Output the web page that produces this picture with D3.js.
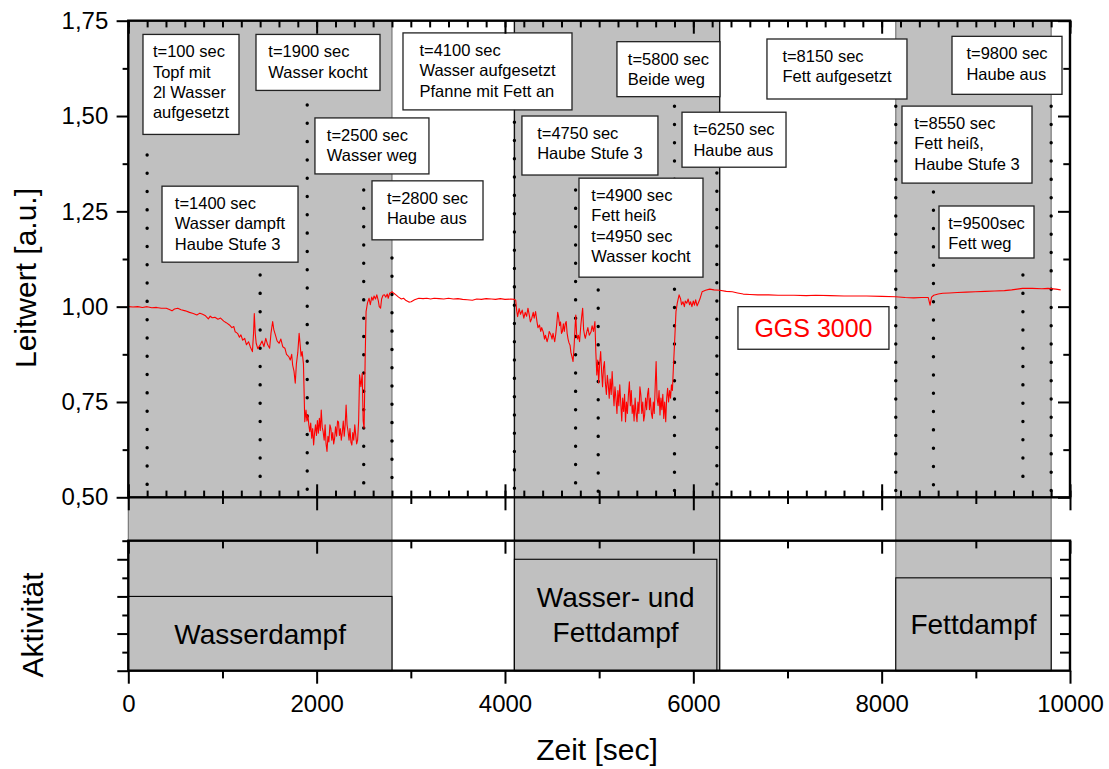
<!DOCTYPE html>
<html><head><meta charset="utf-8">
<script src="https://cdn.jsdelivr.net/npm/d3@7"></script>
<style>
body{margin:0;background:#fff;}
svg{display:block;font-family:"Liberation Sans",Arial,sans-serif;}
</style></head>
<body><svg id="c" width="1109" height="769"></svg>
<script>
// ---------- DATA ----------
// [time in sec, Leitwert]
const leitwertSamples = [
[0,1.000],[50,0.999],[100,1.000],[150,0.998],[200,1.000],[250,0.997],[300,0.998],[350,0.996],[403,0.996],[430,0.993],[464,0.989],[490,0.994],[525,0.996],[560,0.992],[606,0.989],[650,0.985],[690,0.982],[728,0.978],[760,0.983],[789,0.980],[820,0.976],[850,0.968],[870,0.975],[891,0.971],[920,0.972],[952,0.967],[980,0.970],[1013,0.962],[1040,0.958],[1074,0.952],[1100,0.945],[1120,0.948],[1135,0.934],[1160,0.930],[1180,0.920],[1196,0.926],[1215,0.912],[1236,0.917],[1255,0.900],[1277,0.908],[1295,0.895],[1318,0.882],[1330,0.930],[1338,0.982],[1348,0.930],[1358,0.904],[1375,0.890],[1399,0.899],[1420,0.910],[1440,0.895],[1460,0.917],[1480,0.900],[1501,0.891],[1515,0.930],[1533,0.961],[1545,0.940],[1562,0.926],[1580,0.910],[1602,0.904],[1620,0.915],[1640,0.895],[1663,0.891],[1680,0.875],[1704,0.869],[1720,0.860],[1735,0.875],[1745,0.847],[1760,0.830],[1773,0.799],[1785,0.850],[1800,0.880],[1814,0.930],[1825,0.900],[1835,0.870],[1846,0.882],[1860,0.850],
[1874,0.698],[1887,0.729],[1897,0.700],[1907,0.716],[1917,0.690],[1927,0.672],[1937,0.695],[1948,0.655],[1958,0.680],[1968,0.637],[1978,0.668],[1988,0.690],[1998,0.662],[2008,0.701],[2018,0.668],[2029,0.707],[2039,0.675],[2049,0.729],[2059,0.684],[2069,0.672],[2080,0.650],[2090,0.690],[2100,0.640],[2110,0.620],[2120,0.660],[2130,0.645],[2141,0.690],[2151,0.681],[2161,0.650],[2171,0.670],[2181,0.640],[2191,0.655],[2201,0.685],[2212,0.660],[2222,0.700],[2232,0.698],[2242,0.662],[2252,0.680],[2262,0.650],[2273,0.672],[2283,0.700],[2293,0.660],[2303,0.690],[2313,0.742],[2323,0.690],[2334,0.672],[2344,0.650],[2354,0.680],[2364,0.645],[2374,0.637],[2384,0.670],[2394,0.650],[2405,0.690],[2415,0.663],[2425,0.640],[2435,0.650],[2446,0.700],[2456,0.821],[2470,0.790],[2484,0.825],[2494,0.700],[2504,0.681],[2515,0.860],
[2525,0.987],[2540,1.010],[2557,1.022],[2570,1.005],[2585,1.025],[2598,1.017],[2610,1.028],[2625,1.020],[2639,1.031],[2655,1.015],[2665,1.000],[2679,0.996],[2690,1.020],[2705,1.030],[2720,1.031],[2735,1.025],[2750,1.033],[2760,1.022],[2775,1.035],[2790,1.037],[2801,1.039],
[2820,1.035],[2842,1.031],[2870,1.025],[2900,1.020],[2923,1.022],[2950,1.016],[2980,1.012],[3004,1.013],[3040,1.018],[3085,1.022],[3130,1.021],[3170,1.022],[3210,1.020],[3248,1.022],[3300,1.021],[3350,1.020],[3400,1.022],[3451,1.020],[3500,1.021],[3550,1.019],[3600,1.018],[3654,1.017],[3700,1.020],[3750,1.019],[3800,1.021],[3857,1.020],[3900,1.019],[3950,1.021],[4000,1.019],[4061,1.020],[4100,1.019],
[4114,1.017],[4124,0.990],[4134,0.974],[4150,0.995],[4165,0.980],[4183,0.991],[4200,0.970],[4215,0.985],[4230,0.975],[4244,0.996],[4260,0.975],[4270,0.960],[4284,0.969],[4300,0.985],[4310,0.970],[4325,0.987],[4340,0.960],[4350,0.945],[4366,0.952],[4380,0.935],[4390,0.945],[4406,0.934],[4420,0.915],[4430,0.925],[4447,0.908],[4460,0.920],[4470,0.935],[4488,0.926],[4500,0.915],[4510,0.930],[4528,0.908],[4540,0.930],[4550,0.955],[4560,0.985],[4569,0.974],[4580,0.950],[4590,0.960],[4600,0.930],[4609,0.934],[4620,0.955],[4630,0.935],[4640,0.955],[4650,0.961],[4660,0.930],[4670,0.915],[4680,0.905],[4691,0.899],[4700,0.880],[4710,0.870],[4723,0.856],[4735,0.900],[4745,0.950],[4752,0.978],[4760,0.930],[4770,0.915],[4780,0.925],[4792,0.908],[4805,0.950],[4815,0.975],[4825,0.996],[4835,0.940],[4845,0.925],[4853,0.917],[4865,0.930],[4880,0.945],[4895,0.925],[4914,0.934],[4925,0.950],[4940,0.935],
[4955,0.961],[4965,0.880],[4975,0.821],[4985,0.860],[4995,0.800],[5005,0.850],[5016,0.882],[5026,0.830],[5036,0.790],[5046,0.840],[5056,0.856],[5066,0.800],[5077,0.770],[5087,0.820],[5097,0.795],[5107,0.760],[5117,0.810],[5128,0.770],[5138,0.830],[5148,0.780],[5158,0.740],[5168,0.790],[5178,0.760],[5189,0.720],[5199,0.780],[5209,0.740],[5219,0.795],[5229,0.750],[5240,0.700],[5250,0.760],[5260,0.725],[5270,0.770],[5280,0.698],[5290,0.750],[5300,0.720],[5311,0.770],[5321,0.803],[5331,0.740],[5341,0.780],[5351,0.720],[5361,0.742],[5371,0.700],[5382,0.760],[5392,0.720],[5402,0.698],[5412,0.750],[5422,0.720],[5433,0.790],[5443,0.768],[5453,0.720],[5463,0.750],[5473,0.700],[5483,0.716],[5493,0.760],[5504,0.730],[5514,0.770],[5524,0.786],[5534,0.730],[5544,0.760],[5555,0.720],[5565,0.707],[5575,0.750],[5585,0.720],[5595,0.790],[5605,0.856],[5615,0.760],[5626,0.740],[5636,0.780],[5646,0.716],[5656,0.760],[5666,0.730],[5676,0.770],[5686,0.707],[5696,0.750],[5707,0.698],[5717,0.760],[5727,0.786],[5737,0.750],[5748,0.780],[5758,0.760],[5768,0.795],[5778,0.780],[5788,0.838],[5800,0.900],
[5816,0.987],[5830,1.010],[5849,1.031],[5865,1.020],[5875,1.005],[5890,1.013],[5905,1.000],[5915,1.015],[5930,1.009],[5945,1.020],[5960,1.005],[5971,1.013],[5985,1.000],[6000,1.015],[6012,1.004],[6025,1.018],[6040,1.002],[6052,1.009],[6070,1.020],[6093,1.039],[6130,1.043],[6174,1.046],[6220,1.044],[6279,1.043],
[6350,1.040],[6414,1.039],[6470,1.036],[6530,1.033],[6600,1.032],[6684,1.031],[6800,1.031],[6900,1.030],[7069,1.030],[7200,1.029],[7300,1.030],[7454,1.029],[7600,1.028],[7700,1.028],[7840,1.028],[8000,1.027],[8148,1.026],[8250,1.024],[8340,1.023],[8420,1.024],[8495,1.024],[8514,1.004],[8530,1.025],[8553,1.030],[8600,1.033],[8649,1.035],[8720,1.036],[8803,1.037],[8900,1.038],[8996,1.039],[9100,1.040],[9200,1.041],[9304,1.042],[9381,1.044],[9440,1.046],[9496,1.048],[9600,1.048],[9700,1.047],[9766,1.048],[9850,1.046],[9901,1.044]
];

const bandStart = [0,4100,8150];
const bandEnd   = [2800,6280,9800];

const actStart = [0,4100,8150];
const actEnd   = [2800,6250,9800];
const actLevel = [2,3,2.5];
const actLabel = [["Wasserdampf"],["Wasser- und","Fettdampf"],["Fettdampf"]];

const eventT   = [200,1400,1900,2500,2800,4100,4750,4990,5800,6250,8150,8550,9500,9800];
const eventTop = [1.398,1.083,1.529,1.306,1.128,1.484,1.306,1.044,1.526,1.351,1.526,1.301,1.083,1.526];

const annText = [
 ["t=100 sec","Topf mit","2l Wasser","aufgesetzt"],
 ["t=1900 sec","Wasser kocht"],
 ["t=2500 sec","Wasser weg"],
 ["t=1400 sec","Wasser dampft","Haube Stufe 3"],
 ["t=2800 sec","Haube aus"],
 ["t=4100 sec","Wasser aufgesetzt","Pfanne mit Fett an"],
 ["t=5800 sec","Beide weg"],
 ["t=4750 sec","Haube Stufe 3"],
 ["t=6250 sec","Haube aus"],
 ["t=4900 sec","Fett heiß","t=4950 sec","Wasser kocht"],
 ["t=8150 sec","Fett aufgesetzt"],
 ["t=9800 sec","Haube aus"],
 ["t=8550 sec","Fett heiß,","Haube Stufe 3"],
 ["t=9500sec","Fett weg"]
];
const seriesName = "GGS 3000";

const xTicksMajor = [0,2000,4000,6000,8000,10000];
const yTicksTop = [0.50,0.75,1.00,1.25,1.50,1.75];

// ---------- LAYOUT (box anchors in data units, sizes in px) ----------
const annLayout = [
 [156,1.714,96,100],[1356,1.714,124,56],[1982,1.495,114,56],[358,1.316,136,76],
 [2588,1.330,111,59],[2917,1.718,169,77],[5189,1.695,103,55],[4180,1.500,136,59],
 [5880,1.510,104,55],[4786,1.337,124,99],[6782,1.702,140,60],[8747,1.709,110,58],
 [8216,1.526,130,77],[8609,1.264,95,52]
];
const legendLayout = [6474,1.000,151,42.6];

// ---------- SCALES ----------
const svg = d3.select("#c");
const x = d3.scaleLinear().domain([0,10000]).range([128.3,1070]);
const yT = d3.scaleLinear().domain([0.5,1.75]).range([497.3,20.7]);
const yB = d3.scaleLinear().domain([0,3.5]).range([670.7,540.7]);
const X0=x.range()[0], X1=x.range()[1];
const TT=yT.range()[1], TB=yT.range()[0], BT=yB.range()[1], BB=yB.range()[0];
const fmt = v => d3.format(".2f")(v).replace(".",",");

// bands
const bands = bandStart.map((s,i)=>({s,e:bandEnd[i],i}));
svg.append("g").selectAll("rect").data(bands).join("rect")
  .attr("x",d=>x(d.s)).attr("y",TT).attr("width",d=>x(d.e)-x(d.s)).attr("height",BB-TT)
  .attr("fill","#c0c0c0");
svg.append("g").selectAll("line").data(bands.flatMap(d=>[{t:d.s,i:d.i},{t:d.e,i:d.i}])).join("line")
  .attr("x1",d=>x(d.t)).attr("x2",d=>x(d.t)).attr("y1",TT).attr("y2",BB)
  .attr("stroke",d=>d.i===1?"#111":"#707070").attr("stroke-width",d=>d.i===1?1.4:1.1);

// activity boxes
const acts = actStart.map((s,i)=>({s,e:actEnd[i],lv:actLevel[i],lab:actLabel[i]}));
const ag = svg.append("g");
ag.selectAll("rect").data(acts).join("rect")
  .attr("x",d=>x(d.s)).attr("y",d=>yB(d.lv)).attr("width",d=>x(d.e)-x(d.s)).attr("height",d=>yB(0)-yB(d.lv))
  .attr("fill","#c0c0c0").attr("stroke","#000").attr("stroke-width",1.1);
acts.forEach(d=>{
  const cx=(x(d.s)+x(d.e))/2, cy=(yB(d.lv)+yB(0))/2;
  const n=d.lab.length, lh=35;
  d.lab.forEach((t,j)=>{
    ag.append("text").attr("x",cx).attr("y",cy+10+(j-(n-1)/2)*lh)
      .attr("text-anchor","middle").attr("font-size",28).attr("fill","#000").text(t);
  });
});

// dotted event lines
svg.append("g").selectAll("line").data(eventT.map((t,i)=>({t,top:eventTop[i]}))).join("line")
  .attr("x1",d=>x(d.t)).attr("x2",d=>x(d.t)).attr("y1",d=>yT(d.top)).attr("y2",TB-4)
  .attr("stroke","#000").attr("stroke-width",3.4).attr("stroke-linecap","round")
  .attr("stroke-dasharray","0.1 18.2");

// red line
svg.append("path").datum(leitwertSamples)
  .attr("d",d3.line().x(d=>x(d[0])).y(d=>yT(d[1])))
  .attr("fill","none").attr("stroke","#ff0000").attr("stroke-width",1.1).attr("stroke-linejoin","round");

// annotation boxes
const annG = svg.append("g");
annText.forEach((lines,i)=>{
  const [t,v,w,h]=annLayout[i];
  const bx=x(t), by=yT(v);
  const g=annG.append("g");
  g.append("rect").attr("x",bx).attr("y",by).attr("width",w).attr("height",h)
    .attr("fill","#fff").attr("stroke","#222").attr("stroke-width",1.3);
  const texts = lines.map((s,j)=>g.append("text").attr("y",by+23+j*20.3)
    .attr("font-size",16.5).attr("fill","#000").text(s));
  const mw = d3.max(texts,tx=>tx.node().getComputedTextLength());
  const tx0 = bx+(w-mw)/2;
  texts.forEach(tx=>tx.attr("x",tx0));
});
// legend box
{
  const [t,v,w,h]=legendLayout;
  const bx=x(t), by=yT(v);
  svg.append("rect").attr("x",bx).attr("y",by).attr("width",w).attr("height",h)
    .attr("fill","#fff").attr("stroke","#222").attr("stroke-width",1.3);
  svg.append("text").attr("x",bx+w/2).attr("y",by+30).attr("text-anchor","middle")
    .attr("font-size",25).attr("fill","#ff0000").text(seriesName);
}

// ---------- AXES ----------
const minor200 = d3.range(0,10001,200);
const odd1000 = [1000,3000,5000,7000,9000];
function ax(g){ g.select(".domain").remove(); g.selectAll("line").attr("stroke","#000").attr("stroke-width",2); }

// top panel bottom
svg.append("g").attr("transform",`translate(0,${TB})`)
  .call(d3.axisTop(x).tickValues(minor200).tickSize(6.7).tickFormat("")).call(ax);
svg.append("g").attr("transform",`translate(0,${TB})`)
  .call(d3.axisBottom(x).tickValues(odd1000).tickSize(6.7).tickFormat("")).call(ax);
svg.append("g").attr("transform",`translate(0,${TB})`)
  .call(d3.axisBottom(x).tickValues(xTicksMajor).tickSize(13).tickFormat("")).call(ax);
svg.append("g").attr("transform",`translate(0,${TB})`)
  .call(d3.axisTop(x).tickValues(xTicksMajor).tickSize(13).tickFormat("")).call(ax);
// top panel top (inward)
svg.append("g").attr("transform",`translate(0,${TT})`)
  .call(d3.axisBottom(x).tickValues(minor200).tickSize(6.7).tickFormat("")).call(ax);
svg.append("g").attr("transform",`translate(0,${TT})`)
  .call(d3.axisBottom(x).tickValues(xTicksMajor).tickSize(13).tickFormat("")).call(ax);
// top panel left
svg.append("g").attr("transform",`translate(${X0},0)`)
  .call(d3.axisLeft(yT).tickValues(d3.range(0.625,1.75,0.25)).tickSize(5.7).tickFormat("")).call(ax);
const yl = svg.append("g").attr("transform",`translate(${X0},0)`)
  .call(d3.axisLeft(yT).tickValues(yTicksTop).tickSize(11.7).tickPadding(8.3).tickFormat(fmt)).call(ax);
yl.selectAll("text").attr("font-size",24).attr("fill","#000").attr("font-family","Liberation Sans, Arial, sans-serif");
// top panel right (inward)
svg.append("g").attr("transform",`translate(${X1},0)`)
  .call(d3.axisLeft(yT).tickValues(d3.range(0.625,1.75,0.25)).tickSize(6.7).tickFormat("")).call(ax);
svg.append("g").attr("transform",`translate(${X1},0)`)
  .call(d3.axisLeft(yT).tickValues(yTicksTop).tickSize(12).tickFormat("")).call(ax);

// bottom panel top edge (inward) and bottom edge
svg.append("g").attr("transform",`translate(0,${BT})`)
  .call(d3.axisBottom(x).tickValues(odd1000).tickSize(7.7).tickFormat("")).call(ax);
svg.append("g").attr("transform",`translate(0,${BT})`)
  .call(d3.axisBottom(x).tickValues(xTicksMajor).tickSize(13).tickFormat("")).call(ax);
svg.append("g").attr("transform",`translate(0,${BB})`)
  .call(d3.axisBottom(x).tickValues(odd1000).tickSize(7.7).tickFormat("")).call(ax);
const xl = svg.append("g").attr("transform",`translate(0,${BB})`)
  .call(d3.axisBottom(x).tickValues(xTicksMajor).tickSize(13).tickPadding(11.3).tickFormat(d3.format("d"))).call(ax);
xl.selectAll("text").attr("font-size",24).attr("fill","#000").attr("font-family","Liberation Sans, Arial, sans-serif");
// bottom panel left/right
svg.append("g").attr("transform",`translate(${X0},0)`)
  .call(d3.axisLeft(yB).tickValues([0.5,1.5,2.5,3.5]).tickSize(6).tickFormat("")).call(ax);
svg.append("g").attr("transform",`translate(${X0},0)`)
  .call(d3.axisLeft(yB).tickValues([0,1,2,3]).tickSize(11).tickFormat("")).call(ax);
svg.append("g").attr("transform",`translate(${X1},0)`)
  .call(d3.axisLeft(yB).tickValues(d3.range(0.5,3.5,0.5)).tickSize(10).tickFormat("")).call(ax);

// frames
const fr = svg.append("g").attr("stroke","#000").attr("stroke-width",2.4).attr("fill","none");
fr.append("rect").attr("x",X0).attr("y",TT).attr("width",X1-X0).attr("height",TB-TT);
fr.append("rect").attr("x",X0).attr("y",BT).attr("width",X1-X0).attr("height",BB-BT);

// axis titles
svg.append("text").attr("transform",`translate(36,278) rotate(-90)`).attr("text-anchor","middle")
  .attr("font-size",30).attr("fill","#000").text("Leitwert [a.u.]");
svg.append("text").attr("transform",`translate(43,625) rotate(-90)`).attr("text-anchor","middle")
  .attr("font-size",30).attr("fill","#000").text("Aktivität");
svg.append("text").attr("x",597).attr("y",760).attr("text-anchor","middle")
  .attr("font-size",30).attr("fill","#000").text("Zeit [sec]");
</script></body></html>
